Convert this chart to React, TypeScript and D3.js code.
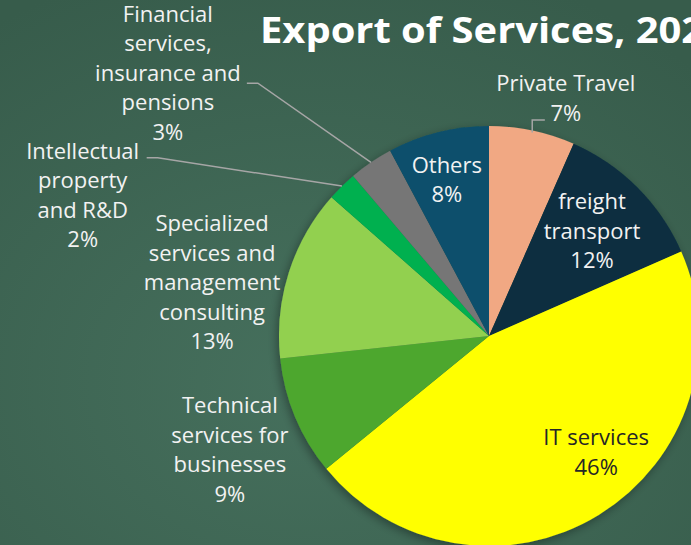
import * as d3 from 'd3';

const categories = [
  'Private Travel',
  'freight\ntransport',
  'IT services',
  'Technical\nservices for\nbusinesses',
  'Specialized\nservices and\nmanagement\nconsulting',
  'Intellectual\nproperty\nand R&D',
  'Financial\nservices,\ninsurance and\npensions',
  'Others',
];
const shares = [6.6, 11.8, 45.7, 9.2, 13.2, 2.3, 3.4, 7.8];
const sliceColors = ['#f1a883', '#0c2e40', '#ffff00', '#4ea72e', '#92d050', '#00b050', '#767676', '#0b4f6c'];

// label block placement, polar around the pie center: [angle in degrees, distance]
const labelPolar: [number, number][] = [
  [17.9, 250],
  [44.5, 147],
  [137.3, 158],
  [246.3, 283],
  [280.9, 282],
  [289.1, 430],
  [309.3, 415],
  [344.9, 162],
];

const W = 691;
const H = 545;
const cx = 489;
const cy = 336;
const R = 210;
const lineH = 29.5;

type Pt = [number, number];

export default function App() {
  const pie = d3.pie<number>().sort(null).value((d) => d);
  const arcs = pie(shares);
  const arc = d3.arc<d3.PieArcDatum<number>>().innerRadius(0).outerRadius(R);
  const edge = d3.arc<d3.PieArcDatum<number>>().innerRadius(R).outerRadius(R);

  const polar = (deg: number, r: number): Pt => {
    const a = (deg * Math.PI) / 180;
    return [r * Math.sin(a), -r * Math.cos(a)];
  };

  const labels = arcs.map((a, i) => {
    const [lx, ly] = polar(labelPolar[i][0], labelPolar[i][1]);
    const lines = [...categories[i].split('\n'), `${Math.round(shares[i])}%`];
    return { lx, ly, lines, dark: sliceColors[i] === '#ffff00' };
  });

  // leader lines for the labels that sit outside the pie
  const leaders: Pt[][] = [];
  {
    const [px, py] = edge.centroid(arcs[0]);
    const l = labels[0];
    const yElbow = l.ly + 22;
    leaders.push([[px, py + 2], [px, yElbow], [l.lx - 21, yElbow]]);
  }
  {
    const [px, py] = edge.centroid(arcs[5]);
    const l = labels[5];
    leaders.push([[px, py], [l.lx + 75, l.ly - 37.5], [l.lx + 64, l.ly - 37.5]]);
  }
  {
    const [px, py] = edge.centroid(arcs[6]);
    const l = labels[6];
    leaders.push([[px, py], [l.lx + 90, l.ly + 10], [l.lx + 79, l.ly + 10]]);
  }

  return (
    <svg
      width={W}
      height={H}
      viewBox={`0 0 ${W} ${H}`}
      style={{ position: 'absolute', left: 0, top: 0, display: 'block' }}
    >
      <defs>
        <radialGradient id="bg" cx="45%" cy="70%" r="80%">
          <stop offset="0%" stopColor="#46705d" />
          <stop offset="100%" stopColor="#375c4b" />
        </radialGradient>
        <filter id="shadow" x="-20%" y="-20%" width="140%" height="140%">
          <feDropShadow dx="-2" dy="3" stdDeviation="5" floodColor="#000" floodOpacity="0.35" />
        </filter>
      </defs>
      <rect width={W} height={H} fill="url(#bg)" />

      <g transform="translate(260,42.5) scale(1.14,1)">
        <text
          x={0}
          y={0}
          fill="#ffffff"
          fontFamily="'Open Sans', sans-serif"
          fontWeight={700}
          fontSize={35}
        >
          Export of Services, 202
        </text>
      </g>

      <g transform={`translate(${cx},${cy})`}>
        <g filter="url(#shadow)">
          {arcs.map((a, i) => (
            <path key={i} d={arc(a) ?? ''} fill={sliceColors[i]} />
          ))}
        </g>

        {leaders.map((pts, i) => (
          <polyline
            key={i}
            points={pts.map((p) => p.join(',')).join(' ')}
            fill="none"
            stroke="#a6a6a6"
            strokeWidth={1.5}
          />
        ))}

        {labels.map((l, i) => (
          <text
            key={i}
            textAnchor="middle"
            fontFamily="'Open Sans', sans-serif"
            fontSize={22}
            fill={l.dark ? '#262626' : '#f2f2f2'}
          >
            {l.lines.map((t, j) => (
              <tspan
                key={j}
                x={l.lx}
                y={l.ly + (j - (l.lines.length - 1) / 2) * lineH}
                dy="0.35em"
              >
                {t}
              </tspan>
            ))}
          </text>
        ))}
      </g>
    </svg>
  );
}
